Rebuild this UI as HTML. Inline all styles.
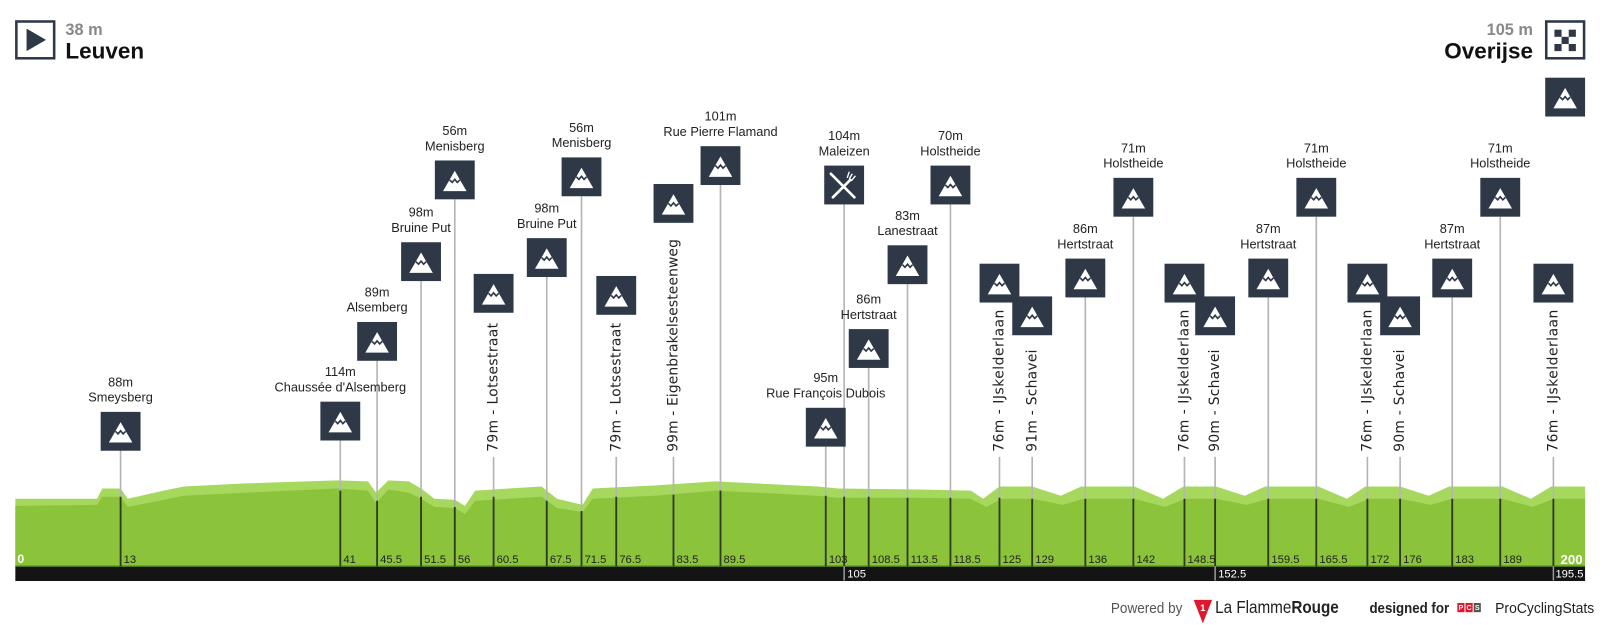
<!DOCTYPE html>
<html><head><meta charset="utf-8"><style>
html,body{margin:0;padding:0;background:#fff;width:1600px;height:625px;overflow:hidden}
svg{display:block}
text{font-family:"Liberation Sans",sans-serif}
.v text{font-family:"DejaVu Sans",sans-serif}
</style></head><body>
<svg width="1600" height="625" viewBox="0 0 1565.6 611.5" xmlns="http://www.w3.org/2000/svg">
<defs>
<g id="m"><rect x="0" y="0" width="39" height="38" fill="#2e3847"/><polygon points="8,30 19.5,10 31,30" fill="#fff"/><polyline points="14.5,19 17,21.5 19.5,18.5 22,21.5 24.5,19" fill="none" stroke="#2e3847" stroke-width="1.6"/></g>
</defs>
<!-- header -->
<rect x="16" y="21" width="37" height="36" fill="#fff" stroke="#2e3847" stroke-width="2.5"/>
<polygon points="26,28 26,50 45,39" fill="#2e3847"/>
<text x="64" y="34" font-size="16" font-weight="bold" fill="#888">38 m</text>
<text x="64" y="57" font-size="22" font-weight="bold" fill="#111">Leuven</text>
<text x="1500" y="34" font-size="16" font-weight="bold" fill="#888" text-anchor="end">105 m</text>
<text x="1500" y="57" font-size="22" font-weight="bold" fill="#111" text-anchor="end">Overijse</text>
<rect x="1513" y="21" width="37" height="36" fill="#fff" stroke="#2e3847" stroke-width="2.5"/>
<g fill="#2e3847"><rect x="1521" y="29" width="7" height="7"/><rect x="1535" y="29" width="7" height="7"/><rect x="1528" y="36" width="7" height="7"/><rect x="1521" y="43" width="7" height="7"/><rect x="1535" y="43" width="7" height="7"/></g>
<use href="#m" x="1512" y="76"/>

<!-- profile -->
<polygon fill="#a6d85e" points="15,488 95,488 100,478 118,478 125,488 160,480 180,476 240,473 330,470 360,471 368,482 380,470 400,471 412,478 425,488 445,489 455,495 465,480 530,476 545,488 570,494 580,478 640,475 700,471 800,476 820,478 900,479 950,480 962,488 978,476 1010,476 1038,485 1058,476 1110,476 1138,488 1158,476 1190,476 1218,485 1238,476 1290,476 1318,488 1336,476 1370,476 1398,485 1418,476 1470,476 1498,488 1518,476 1551,476 1551,554 15,554"/>
<polygon fill="#8bc43a" points="15,495 95,494 100,486 118,486 125,496 180,485 240,482 330,478 360,480 368,492 380,479 400,482 412,488 425,496 445,497 455,503 465,490 530,486 545,497 570,501 580,488 640,485 700,480 800,485 820,487 900,487 950,488 965,496 980,488 1010,488 1040,494 1060,488 1110,488 1140,496 1160,488 1190,488 1220,494 1241,488 1290,488 1320,496 1340,488 1370,488 1400,494 1421,488 1470,488 1500,496 1520,488 1551,488 1551,554 15,554"/>
<rect x="15" y="554" width="1536" height="14.5" fill="#141414"/>
<rect x="15" y="553" width="1536" height="1.5" fill="#6a9a2a"/>

<!-- lines -->
<g stroke="#b4b4b4" stroke-width="1.6">
<line x1="118" y1="440" x2="118" y2="486"/><line x1="333" y1="431" x2="333" y2="480"/><line x1="369" y1="353" x2="369" y2="490"/><line x1="412" y1="275" x2="412" y2="486"/><line x1="445" y1="195" x2="445" y2="496"/><line x1="483" y1="447" x2="483" y2="486"/><line x1="535" y1="271" x2="535" y2="490"/><line x1="569" y1="192" x2="569" y2="500"/><line x1="603" y1="447" x2="603" y2="486"/><line x1="659" y1="447" x2="659" y2="484"/><line x1="705" y1="181" x2="705" y2="480"/><line x1="808" y1="437" x2="808" y2="485"/><line x1="826" y1="200" x2="826" y2="486"/><line x1="850" y1="360" x2="850" y2="486"/><line x1="888" y1="278" x2="888" y2="487"/><line x1="930" y1="200" x2="930" y2="487"/><line x1="978" y1="447" x2="978" y2="487"/><line x1="1010" y1="447" x2="1010" y2="488"/><line x1="1062" y1="291" x2="1062" y2="488"/><line x1="1109" y1="212" x2="1109" y2="488"/><line x1="1159" y1="447" x2="1159" y2="488"/><line x1="1189" y1="447" x2="1189" y2="488"/><line x1="1241" y1="291" x2="1241" y2="488"/><line x1="1288" y1="212" x2="1288" y2="488"/><line x1="1338" y1="447" x2="1338" y2="488"/><line x1="1370" y1="447" x2="1370" y2="488"/><line x1="1421" y1="291" x2="1421" y2="488"/><line x1="1468" y1="212" x2="1468" y2="488"/><line x1="1520" y1="447" x2="1520" y2="488"/>
</g>
<g stroke="#2f3a22" stroke-width="1.8">
<line x1="118" y1="486" x2="118" y2="554"/><line x1="333" y1="480" x2="333" y2="554"/><line x1="369" y1="490" x2="369" y2="554"/><line x1="412" y1="486" x2="412" y2="554"/><line x1="445" y1="496" x2="445" y2="554"/><line x1="483" y1="486" x2="483" y2="554"/><line x1="535" y1="490" x2="535" y2="554"/><line x1="569" y1="500" x2="569" y2="554"/><line x1="603" y1="486" x2="603" y2="554"/><line x1="659" y1="484" x2="659" y2="554"/><line x1="705" y1="480" x2="705" y2="554"/><line x1="808" y1="485" x2="808" y2="554"/><line x1="826" y1="486" x2="826" y2="554"/><line x1="850" y1="486" x2="850" y2="554"/><line x1="888" y1="487" x2="888" y2="554"/><line x1="930" y1="487" x2="930" y2="554"/><line x1="978" y1="487" x2="978" y2="554"/><line x1="1010" y1="488" x2="1010" y2="554"/><line x1="1062" y1="488" x2="1062" y2="554"/><line x1="1109" y1="488" x2="1109" y2="554"/><line x1="1159" y1="488" x2="1159" y2="554"/><line x1="1189" y1="488" x2="1189" y2="554"/><line x1="1241" y1="488" x2="1241" y2="554"/><line x1="1288" y1="488" x2="1288" y2="554"/><line x1="1338" y1="488" x2="1338" y2="554"/><line x1="1370" y1="488" x2="1370" y2="554"/><line x1="1421" y1="488" x2="1421" y2="554"/><line x1="1468" y1="488" x2="1468" y2="554"/><line x1="1520" y1="488" x2="1520" y2="554"/>
</g>
<g stroke="#999" stroke-width="1.5"><line x1="826" y1="554" x2="826" y2="568"/><line x1="1189" y1="554" x2="1189" y2="568"/><line x1="1520" y1="554" x2="1520" y2="568"/></g>

<!-- icons -->
<use href="#m" x="98.5" y="403"/><use href="#m" x="313.5" y="393"/><use href="#m" x="349.5" y="315"/><use href="#m" x="392.5" y="237"/><use href="#m" x="425.5" y="157"/><use href="#m" x="463.5" y="268"/><use href="#m" x="515.5" y="233"/><use href="#m" x="549.5" y="154"/><use href="#m" x="583.5" y="270"/><use href="#m" x="639.5" y="180"/><use href="#m" x="685.5" y="143"/><use href="#m" x="788.5" y="399"/><use href="#m" x="830.5" y="322"/><use href="#m" x="868.5" y="240"/><use href="#m" x="910.5" y="162"/><use href="#m" x="958.5" y="258"/><use href="#m" x="990.5" y="290"/><use href="#m" x="1042.5" y="253"/><use href="#m" x="1089.5" y="174"/><use href="#m" x="1139.5" y="258"/><use href="#m" x="1169.5" y="290"/><use href="#m" x="1221.5" y="253"/><use href="#m" x="1268.5" y="174"/><use href="#m" x="1318.5" y="258"/><use href="#m" x="1350.5" y="290"/><use href="#m" x="1401.5" y="253"/><use href="#m" x="1448.5" y="174"/><use href="#m" x="1500.5" y="258"/>
<rect x="806.5" y="162" width="39" height="38" fill="#2e3847"/>
<g stroke="#fff" stroke-width="2.6" stroke-linecap="round"><line x1="813" y1="170" x2="836" y2="193"/><line x1="815" y1="193" x2="832" y2="176"/></g>
<g stroke="#fff" stroke-width="1.3"><line x1="831" y1="168" x2="829" y2="174"/><line x1="834" y1="170" x2="831" y2="175"/><line x1="837" y1="172" x2="833" y2="177"/></g>

<!-- labels -->
<g font-size="12.5" fill="#222" text-anchor="middle">
<text x="118" y="378">88m</text><text x="118" y="393">Smeysberg</text>
<text x="333" y="368">114m</text><text x="333" y="383">Chaussée d'Alsemberg</text>
<text x="369" y="290">89m</text><text x="369" y="305">Alsemberg</text>
<text x="412" y="212">98m</text><text x="412" y="227">Bruine Put</text>
<text x="445" y="132">56m</text><text x="445" y="147">Menisberg</text>
<text x="535" y="208">98m</text><text x="535" y="223">Bruine Put</text>
<text x="569" y="129">56m</text><text x="569" y="144">Menisberg</text>
<text x="705" y="118">101m</text><text x="705" y="133">Rue Pierre Flamand</text>
<text x="808" y="374">95m</text><text x="808" y="389">Rue François Dubois</text>
<text x="826" y="137">104m</text><text x="826" y="152">Maleizen</text>
<text x="850" y="297">86m</text><text x="850" y="312">Hertstraat</text>
<text x="888" y="215">83m</text><text x="888" y="230">Lanestraat</text>
<text x="930" y="137">70m</text><text x="930" y="152">Holstheide</text>
<text x="1062" y="228">86m</text><text x="1062" y="243">Hertstraat</text>
<text x="1109" y="149">71m</text><text x="1109" y="164">Holstheide</text>
<text x="1241" y="228">87m</text><text x="1241" y="243">Hertstraat</text>
<text x="1288" y="149">71m</text><text x="1288" y="164">Holstheide</text>
<text x="1421" y="228">87m</text><text x="1421" y="243">Hertstraat</text>
<text x="1468" y="149">71m</text><text x="1468" y="164">Holstheide</text>
</g>
<g class="v" font-size="13.5" fill="#222" text-anchor="start" lengthAdjust="spacingAndGlyphs">
<text transform="translate(487,442) rotate(-90)" textLength="126">79m - Lotsestraat</text>
<text transform="translate(607,442) rotate(-90)" textLength="126">79m - Lotsestraat</text>
<text transform="translate(663,442) rotate(-90)" textLength="208">99m - Eigenbrakelsesteenweg</text>
<text transform="translate(982,442) rotate(-90)" textLength="139">76m - IJskelderlaan</text>
<text transform="translate(1014,442) rotate(-90)" textLength="100">91m - Schavei</text>
<text transform="translate(1163,442) rotate(-90)" textLength="139">76m - IJskelderlaan</text>
<text transform="translate(1193,442) rotate(-90)" textLength="100">90m - Schavei</text>
<text transform="translate(1342,442) rotate(-90)" textLength="139">76m - IJskelderlaan</text>
<text transform="translate(1374,442) rotate(-90)" textLength="100">90m - Schavei</text>
<text transform="translate(1524,442) rotate(-90)" textLength="139">76m - IJskelderlaan</text>
</g>

<!-- km -->
<text x="17" y="551" font-size="12" font-weight="bold" fill="#fff">0</text>
<g font-size="11" fill="#222">
<text x="121" y="551">13</text><text x="336" y="551">41</text><text x="372" y="551">45.5</text><text x="415" y="551">51.5</text><text x="448" y="551">56</text><text x="486" y="551">60.5</text><text x="538" y="551">67.5</text><text x="572" y="551">71.5</text><text x="606" y="551">76.5</text><text x="662" y="551">83.5</text><text x="708" y="551">89.5</text><text x="811" y="551">103</text><text x="853" y="551">108.5</text><text x="891" y="551">113.5</text><text x="933" y="551">118.5</text><text x="981" y="551">125</text><text x="1013" y="551">129</text><text x="1065" y="551">136</text><text x="1112" y="551">142</text><text x="1162" y="551">148.5</text><text x="1244" y="551">159.5</text><text x="1291" y="551">165.5</text><text x="1341" y="551">172</text><text x="1373" y="551">176</text><text x="1424" y="551">183</text><text x="1471" y="551">189</text>
</g>
<text x="1527" y="552" font-size="13" font-weight="bold" fill="#fff">200</text>
<g font-size="11" fill="#fff"><text x="829" y="565">105</text><text x="1192" y="565">152.5</text><text x="1522" y="565">195.5</text></g>

<!-- footer -->
<text x="1087" y="600" font-size="14" fill="#555" textLength="70" lengthAdjust="spacingAndGlyphs">Powered by</text>
<polygon points="1168,587 1186,587 1177,610" fill="#e0182d"/>
<text x="1177" y="598" font-size="9" font-weight="bold" fill="#fff" text-anchor="middle">1</text>
<text x="1189" y="600" font-size="17" fill="#222" textLength="121" lengthAdjust="spacingAndGlyphs">La Flamme<tspan font-weight="bold">Rouge</tspan></text>
<text x="1340" y="600" font-size="14" font-weight="bold" fill="#222" textLength="78" lengthAdjust="spacingAndGlyphs">designed for</text>
<rect x="1426" y="590" width="7" height="9" fill="#e0182d"/><rect x="1434" y="590" width="7" height="9" fill="#e0182d"/><rect x="1442" y="590" width="7" height="9" fill="#555"/>
<g font-size="7" font-weight="bold" fill="#fff" text-anchor="middle"><text x="1429.5" y="597">P</text><text x="1437.5" y="597">C</text><text x="1445.5" y="597">S</text></g>
<text x="1463" y="600" font-size="14" fill="#222" textLength="97" lengthAdjust="spacingAndGlyphs">ProCyclingStats</text>
</svg>
</body></html>
